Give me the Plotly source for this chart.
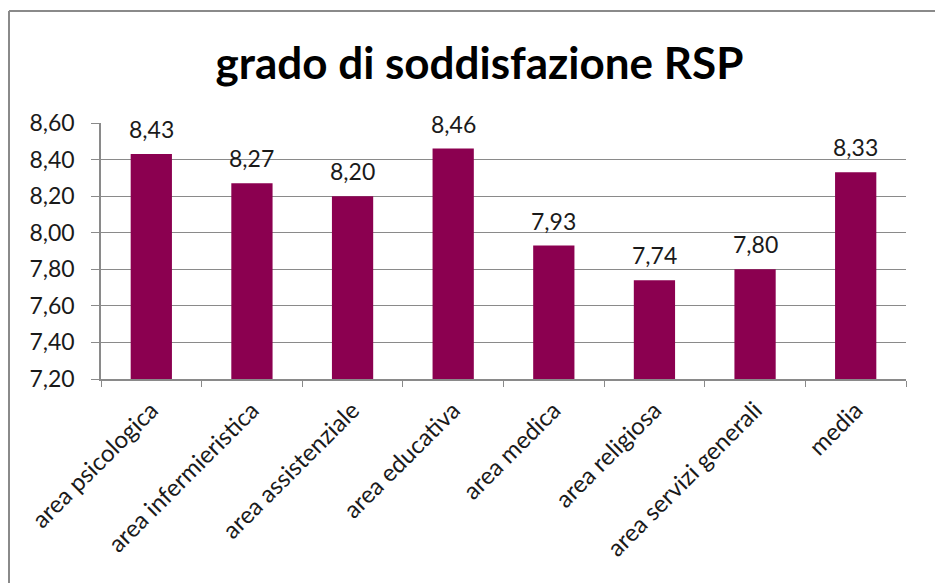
import plotly.graph_objects as go

categories = ["area psicologica", "area infermieristica", "area assistenziale",
              "area educativa", "area medica", "area religiosa",
              "area servizi generali", "media"]
values = [8.43, 8.27, 8.20, 8.46, 7.93, 7.74, 7.80, 8.33]
y_ticks = [7.2, 7.4, 7.6, 7.8, 8.0, 8.2, 8.4, 8.6]

# the page body has an 8px margin; figure coordinates are offset by it
OFF = 8
W, H = 943, 583
ml, mr, mt, mb = 101 - OFF, 45, 123 - OFF, 212
pw, ph = W - ml - mr, H - mt - mb

font = "Lato, Open Sans, sans-serif"

fig = go.Figure(go.Bar(
    x=categories, y=values,
    marker=dict(color="#8B0050", line=dict(width=0)),
    cliponaxis=False,
))

for c, v in zip(categories, values):
    fig.add_annotation(x=c, y=v, text=f"{v:.2f}".replace(".", ","),
                       showarrow=False, yanchor="bottom", yshift=9,
                       font=dict(family=font, size=23, color="#1a1a1a"))

fig.update_layout(
    width=W, height=H,
    margin=dict(l=ml, r=mr, t=mt, b=mb, autoexpand=False),
    paper_bgcolor="white", plot_bgcolor="white",
    separators=",.",
    bargap=0.59,
    showlegend=False,
    title=dict(text="<b>grado di soddisfazione RSP</b>", x=0.5, xanchor="center",
               y=1 - (64 - OFF) / H, yanchor="middle",
               font=dict(family=font, size=44, color="black")),
    font=dict(family=font, color="#1a1a1a"),
    xaxis=dict(type="category", tickangle=-45, tickson="boundaries",
               ticks="outside", ticklen=6, tickcolor="#8a8a8a",
               showline=True, linecolor="#8a8a8a", linewidth=1.5,
               ticklabelstandoff=6,
               showgrid=False, tickfont=dict(family=font, size=24, color="#1a1a1a")),
    yaxis=dict(range=[7.2, 8.6], tickvals=y_ticks, tickformat=".2f",
               ticks="outside", ticklen=8, tickcolor="#8a8a8a",
               showline=True, linecolor="#8a8a8a", linewidth=1.5,
               ticklabelstandoff=12,
               showgrid=True, gridcolor="#8a8a8a", gridwidth=1,
               zeroline=False, tickfont=dict(family=font, size=23, color="#1a1a1a")),
    shapes=[
        dict(type="line", xref="paper", yref="paper",
             x0=(1 - ml) / pw, x1=(W + 5 - ml) / pw,
             y0=1 + (mt - (11 - OFF)) / ph, y1=1 + (mt - (11 - OFF)) / ph,
             line=dict(color="#8a8a8a", width=2)),
        dict(type="line", xref="paper", yref="paper",
             x0=(1 - ml) / pw, x1=(1 - ml) / pw,
             y0=1 + (mt - (11 - OFF)) / ph, y1=-(mb + 5) / ph,
             line=dict(color="#8a8a8a", width=2)),
    ],
)

fig.write_html("out.html")
